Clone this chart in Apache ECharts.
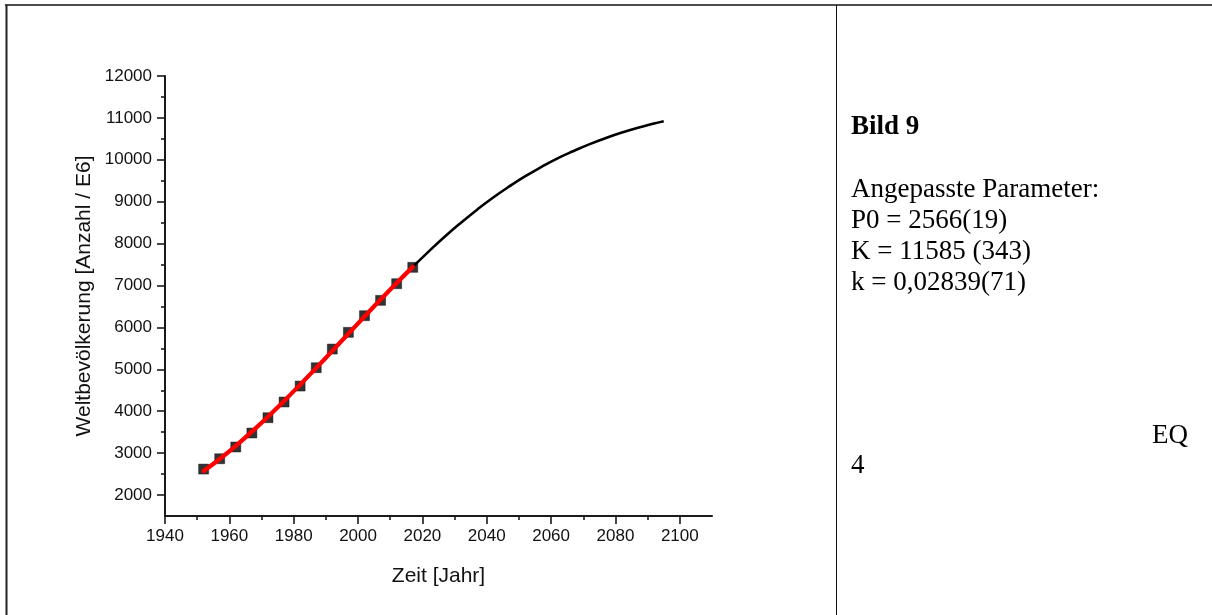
<!DOCTYPE html>
<html><head><meta charset="utf-8">
<script src="https://cdn.jsdelivr.net/npm/echarts@6/dist/echarts.min.js"></script>
<style>html,body{margin:0;padding:0;background:#fff}#c{width:1212px;height:615px}</style>
</head><body><div id="c"></div><script>
// Measured data (Weltbevölkerung, Mio.)
const dataYears = [1952,1957,1962,1967,1972,1977,1982,1987,1992,1997,2002,2007,2012,2017];
const dataPop   = [2620,2866,3146,3480,3845,4220,4601,5038,5484,5883,6280,6646,7043,7434];
// Fitted curve over the data range (red)
const fitYears  = [1952,1957,1962,1967,1972,1977,1982,1987,1992,1997,2002,2007,2012,2017];
const fitPop    = [2573,2860,3175,3515,3870,4245,4635,5035,5440,5850,6260,6665,7060,7445];
// Extrapolated curve (black)
const extYears  = [2017,2022,2027,2032,2037,2042,2047,2052,2057,2062,2067,2072,2077,2082,2087,2092,2095];
const extPop    = [7445,7815,8170,8500,8810,9100,9365,9610,9830,10035,10210,10375,10520,10650,10765,10865,10920];
// Tick labels
const xTicks = [1940,1960,1980,2000,2020,2040,2060,2080,2100];
const yTicks = [2000,3000,4000,5000,6000,7000,8000,9000,10000,11000,12000];
// Side panel texts
const panelTitle = 'Bild 9';
const panelLines = ['Angepasste Parameter:','P0 = 2566(19)','K = 11585 (343)','k = 0,02839(71)'];

const zip = (a,b) => a.map((v,i)=>[v,b[i]]);
const tickFont = '"Liberation Sans Narrow","Liberation Sans",Arial,sans-serif';
const axisCol = '#1a1a1a';
const serif = '"Liberation Serif","Times New Roman",serif';

const chart = echarts.init(document.getElementById('c'));
const graphics = [
  {type:'line', shape:{x1:5,y1:5,x2:1212,y2:5}, style:{stroke:'#111',lineWidth:1.5}, silent:true},
  {type:'line', shape:{x1:6.5,y1:5,x2:6.5,y2:615}, style:{stroke:'#222',lineWidth:2}, silent:true},
  {type:'line', shape:{x1:836.5,y1:5,x2:836.5,y2:615}, style:{stroke:'#111',lineWidth:1}, silent:true},
  {type:'text', x:851, y:127, style:{text:panelTitle, fill:'#000', font:'bold 27px '+serif, verticalAlign:'middle'}},
  {type:'text', x:1152, y:436, style:{text:'EQ', fill:'#000', font:'27px '+serif, verticalAlign:'middle'}},
  {type:'text', x:851, y:466, style:{text:'4', fill:'#000', font:'27px '+serif, verticalAlign:'middle'}}
];
panelLines.forEach((t,i)=>graphics.push({type:'text', x:851, y:190+i*31, style:{text:t, fill:'#000', font:'27px '+serif, verticalAlign:'middle'}}));

chart.setOption({
  animation:false,
  backgroundColor:'#fff',
  grid:{left:165, top:76, right:500, bottom:99, containLabel:false},
  xAxis:{
    type:'value', min:1940, max:2110, splitNumber:8,
    name:'Zeit [Jahr]', nameLocation:'middle', nameGap:50,
    nameTextStyle:{fontFamily:tickFont, fontSize:21, color:'#111'},
    axisLine:{show:true, onZero:false, lineStyle:{color:axisCol, width:2}},
    axisTick:{show:true, inside:false, length:8, lineStyle:{color:axisCol, width:1.6}, customValues:xTicks},
    minorTick:{show:true, splitNumber:2, length:4, lineStyle:{color:axisCol, width:1.6}},
    axisLabel:{customValues:xTicks, margin:12, color:'#111', fontFamily:tickFont, fontSize:17, formatter:v=>String(v)},
    splitLine:{show:false}
  },
  yAxis:{
    type:'value', min:1500, max:12000, splitNumber:10,
    name:'Weltbevölkerung [Anzahl / E6]', nameLocation:'middle', nameGap:70, nameRotate:90,
    nameTextStyle:{fontFamily:'"Liberation Sans",Arial,sans-serif', fontSize:21, color:'#111'},
    axisLine:{show:true, onZero:false, lineStyle:{color:axisCol, width:2}},
    axisTick:{show:true, inside:false, length:8, lineStyle:{color:axisCol, width:1.6}, customValues:yTicks},
    minorTick:{show:true, splitNumber:2, length:4, lineStyle:{color:axisCol, width:1.6}},
    axisLabel:{customValues:yTicks, margin:13, color:'#111', fontFamily:tickFont, fontSize:17, formatter:v=>String(v)},
    splitLine:{show:false}
  },
  series:[
    {type:'line', name:'Extrapolation', data:zip(extYears,extPop), smooth:true, showSymbol:false, symbol:'none',
     lineStyle:{color:'#000', width:2.6}, z:2},
    {type:'scatter', name:'Daten', data:zip(dataYears,dataPop), symbol:'rect', symbolSize:10,
     itemStyle:{color:'#000', borderColor:'#000', borderWidth:0.5}, z:3},
    {type:'line', name:'Fit', data:zip(fitYears,fitPop), smooth:true, showSymbol:false, symbol:'none',
     lineStyle:{color:'#ff0000', width:4.3, cap:'round'}, z:4}
  ],
  graphic:graphics
});
</script></body></html>
